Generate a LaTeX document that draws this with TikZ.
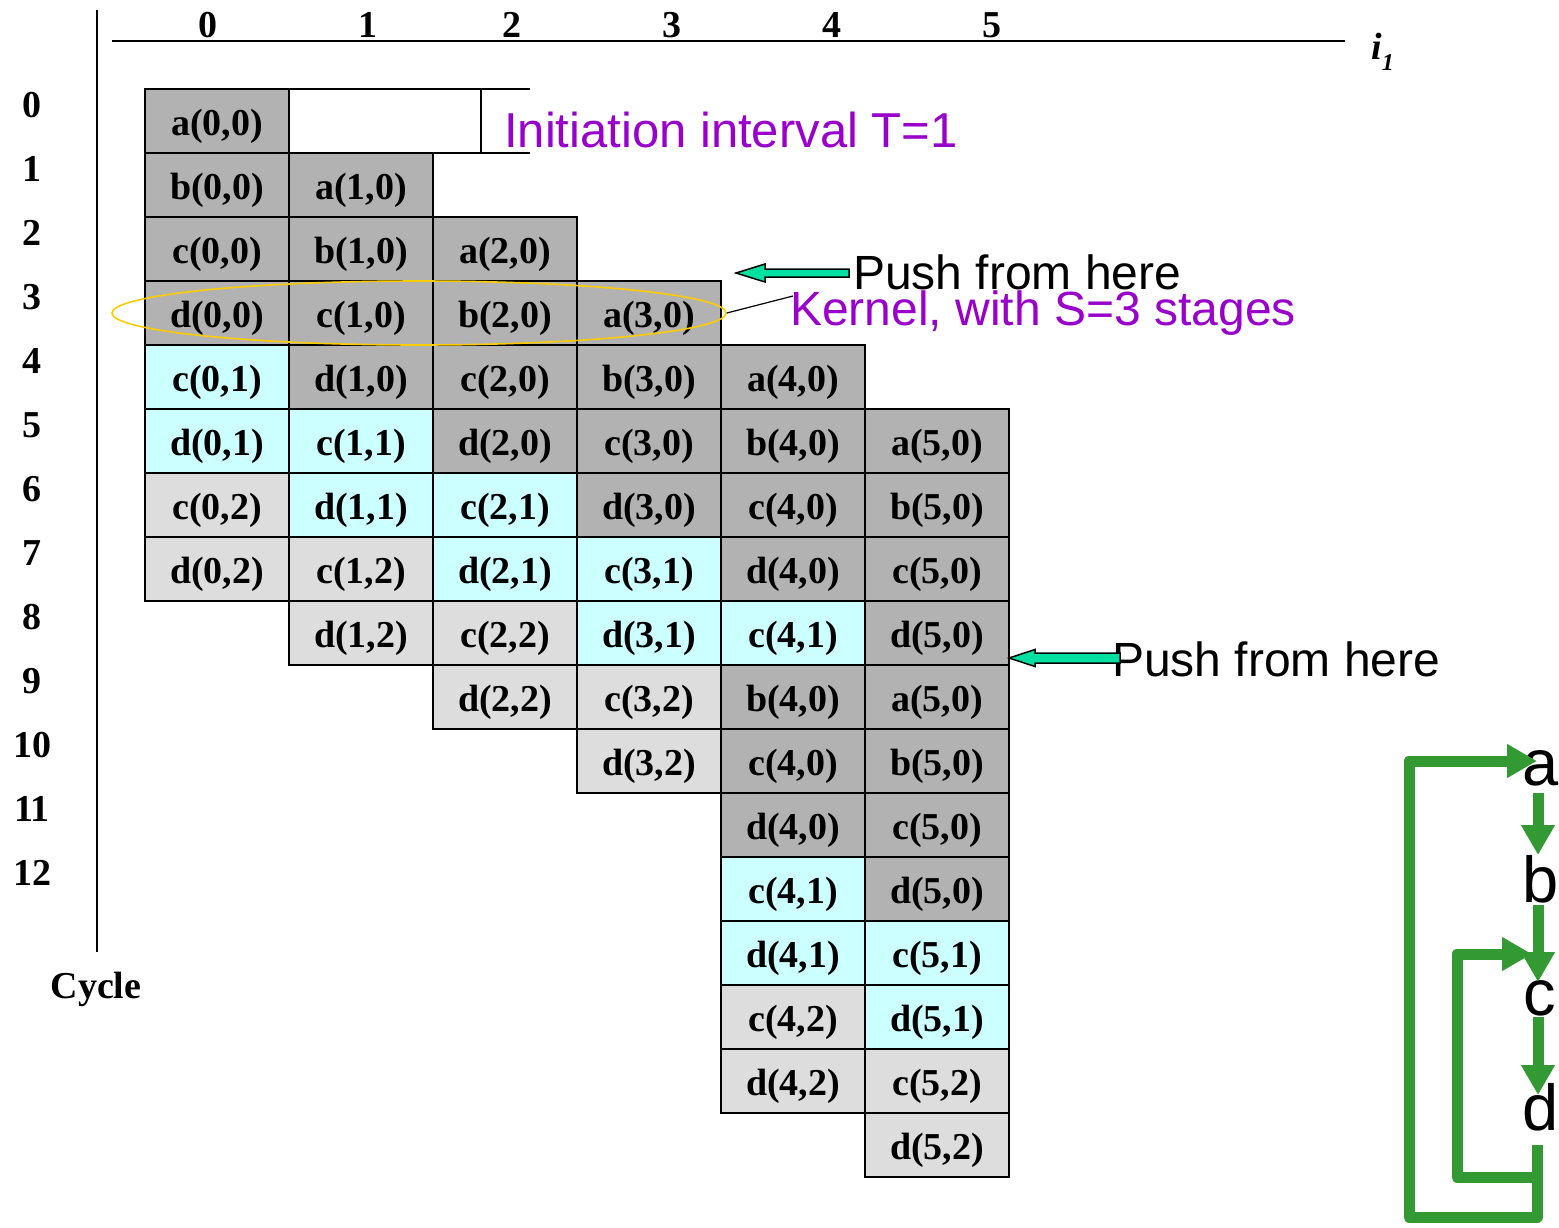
\documentclass[tikz,border=0pt]{standalone}
\usepackage{fontspec}
\setmainfont{Liberation Serif}
\newfontfamily\sansf{Liberation Sans}
\usetikzlibrary{arrows.meta,shapes.geometric,calc}
\definecolor{dk}{RGB}{178,178,178}
\definecolor{cy}{RGB}{204,255,255}
\definecolor{lg}{RGB}{221,221,221}
\definecolor{kpurple}{RGB}{153,0,204}
\definecolor{kgold}{RGB}{255,204,0}
\definecolor{pgreen}{RGB}{0,224,160}
\definecolor{ggreen}{RGB}{51,153,51}
\begin{document}
\begin{tikzpicture}[x=1pt,y=-1pt,
  cell/.style={draw=black, line width=1.8pt, minimum width=144pt, minimum height=64pt,
    inner sep=0pt, text height=34pt, text depth=6pt, font=\fontsize{38}{40}\selectfont\bfseries},
  lbl/.style={font=\fontsize{38}{40}\selectfont\bfseries, inner sep=0pt},
  bigsans/.style={font=\sansf\fontsize{48}{56}\selectfont, inner sep=0pt, anchor=base west},
  gletter/.style={font=\sansf\fontsize{65}{70}\selectfont, inner sep=0pt, anchor=base},
  gline/.style={draw=ggreen, line width=11pt, line join=round, -{Triangle[length=30pt,width=32pt]}},
  pusharrow/.style={draw=black, line width=1.5pt, fill=pgreen, line join=miter},
  axis/.style={draw=black, line width=2pt}]
\useasboundingbox (0,0) rectangle (1559,1227);

% axes
\coordinate (hx0) at (112,41);
\coordinate (hx1) at (1345,41);
\coordinate (vy0) at (97,10);
\coordinate (vy1) at (97,952);
\draw[axis] (hx0) -- (hx1);
\draw[axis] (vy0) -- (vy1);

\foreach \c/\x in {0/208,1/368,2/512,3/672,4/832,5/992}
  \node[lbl] (col\c) at (\x,25) {\c};
\foreach \r in {0,...,12}
  \node[lbl] (row\r) at (32,{105+64*\r}) {\r};
\node[font=\fontsize{38}{40}\selectfont\bfseries\itshape, inner sep=0pt, anchor=base west] (ione) at (1371,59)
  {i\raisebox{-11pt}{\fontsize{24}{24}\selectfont 1}};
\node[lbl, anchor=base] (cycle) at (96,998) {Cycle};

% cells
\foreach \r/\c/\s/\txt in {
 0/0/dk/{a(0,0)},
 1/0/dk/{b(0,0)}, 1/1/dk/{a(1,0)},
 2/0/dk/{c(0,0)}, 2/1/dk/{b(1,0)}, 2/2/dk/{a(2,0)},
 3/0/dk/{d(0,0)}, 3/1/dk/{c(1,0)}, 3/2/dk/{b(2,0)}, 3/3/dk/{a(3,0)},
 4/0/cy/{c(0,1)}, 4/1/dk/{d(1,0)}, 4/2/dk/{c(2,0)}, 4/3/dk/{b(3,0)}, 4/4/dk/{a(4,0)},
 5/0/cy/{d(0,1)}, 5/1/cy/{c(1,1)}, 5/2/dk/{d(2,0)}, 5/3/dk/{c(3,0)}, 5/4/dk/{b(4,0)}, 5/5/dk/{a(5,0)},
 6/0/lg/{c(0,2)}, 6/1/cy/{d(1,1)}, 6/2/cy/{c(2,1)}, 6/3/dk/{d(3,0)}, 6/4/dk/{c(4,0)}, 6/5/dk/{b(5,0)},
 7/0/lg/{d(0,2)}, 7/1/lg/{c(1,2)}, 7/2/cy/{d(2,1)}, 7/3/cy/{c(3,1)}, 7/4/dk/{d(4,0)}, 7/5/dk/{c(5,0)},
 8/1/lg/{d(1,2)}, 8/2/lg/{c(2,2)}, 8/3/cy/{d(3,1)}, 8/4/cy/{c(4,1)}, 8/5/dk/{d(5,0)},
 9/2/lg/{d(2,2)}, 9/3/lg/{c(3,2)}, 9/4/dk/{b(4,0)}, 9/5/dk/{a(5,0)},
 10/3/lg/{d(3,2)}, 10/4/dk/{c(4,0)}, 10/5/dk/{b(5,0)},
 11/4/dk/{d(4,0)}, 11/5/dk/{c(5,0)},
 12/4/cy/{c(4,1)}, 12/5/dk/{d(5,0)},
 13/4/cy/{d(4,1)}, 13/5/cy/{c(5,1)},
 14/4/lg/{c(4,2)}, 14/5/cy/{d(5,1)},
 15/4/lg/{d(4,2)}, 15/5/lg/{c(5,2)},
 16/5/lg/{d(5,2)}}
  \node[cell, fill=\s] (cell-\r-\c) at ({217+144*\c},{121+64*\r}) {\txt};

% initiation interval box
\coordinate (ib0) at (289,89);
\coordinate (ib1) at (530,89);
\coordinate (ib2) at (289,153);
\coordinate (ib3) at (530,153);
\coordinate (ib4) at (481,89);
\coordinate (ib5) at (481,153);
\draw[line width=1.8pt] (ib0) -- (ib1) (ib2) -- (ib3) (ib4) -- (ib5);
\node[bigsans, text=kpurple, font=\sansf\fontsize{49}{56}\selectfont] (init) at (504,147) {Initiation interval T=1};

% kernel ellipse
\node[ellipse, draw=kgold, line width=1.6pt, minimum width=614pt, minimum height=64pt, inner sep=0pt] (kern) at (419,313) {};
\node[bigsans, text=kpurple] (kerntext) at (790,325) {Kernel, with S=3 stages};
\coordinate (kline) at (793,296);
\draw[line width=1.2pt] (kern.east) -- (kline);

% push arrows
\node[bigsans] (push1) at (853,289) {Push from here};
\node[bigsans] (push2) at (1112,676) {Push from here};
\coordinate (tip1) at (736,273);
\coordinate (tip2) at (1009,658);
\draw[pusharrow] (tip1) -- ++(29,-9) -- ++(0,5) -- ++(84,0) -- ++(0,8) -- ++(-84,0) -- ++(0,5) -- cycle;
\draw[pusharrow] (tip2) -- ++(26,-8.5) -- ++(0,3.5) -- ++(85,0) -- ++(0,10) -- ++(-85,0) -- ++(0,3.5) -- cycle;

% dependence graph
\node[gletter] (ga) at (1541,785) {a};
\node[gletter] (gb) at (1541,902) {b};
\node[gletter] (gc) at (1540,1015) {c};
\node[gletter] (gd) at (1541,1130) {d};
\draw[gline] ($(ga.base)+(-3,8)$) -- ($(gb.base)+(-3,-47)$);
\draw[gline] ($(gb.base)+(-3,3)$) -- ($(gc.base)+(-2,-33)$);
\draw[gline] ($(gc.base)+(-2,2)$) -- ($(gd.base)+(-3,-35)$);
\draw[gline] ($(gd.base)+(-4,15)$) -- (1537,1217) -- (1409,1217) -- (1409,761) -- ($(ga.base)+(-4,-24)$);
\draw[gline] (1537,1177) -- (1457,1177) -- (1457,954) -- ($(gc.base)+(-8,-61)$);
\end{tikzpicture}
\end{document}
